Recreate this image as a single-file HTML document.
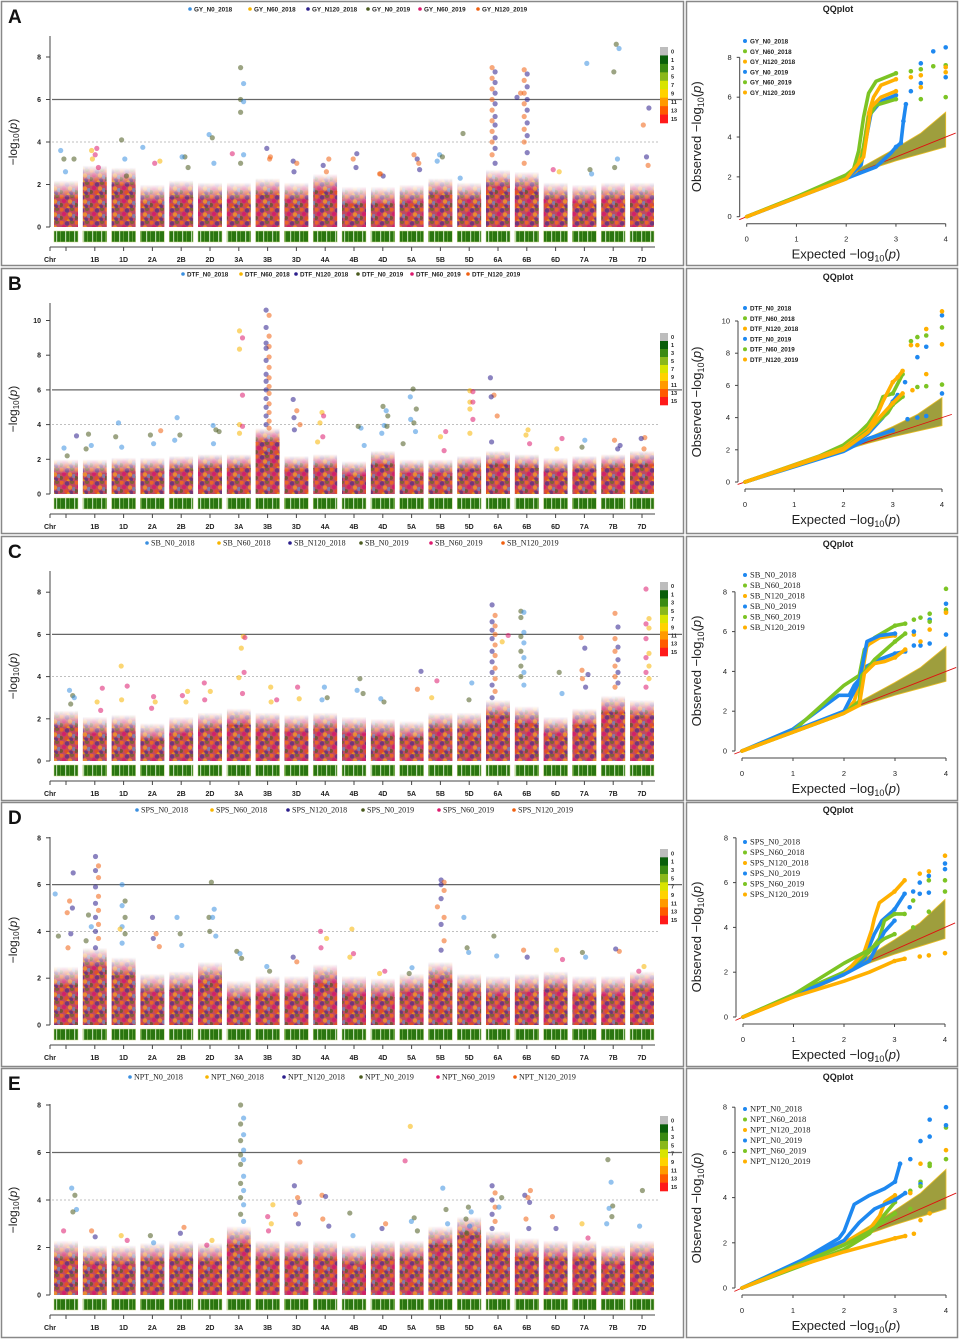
<!DOCTYPE html>
<html><head><meta charset="utf-8"><style>
html,body{margin:0;padding:0;background:#fff;}
svg{display:block;}
</style></head><body>
<svg id="fig" xmlns="http://www.w3.org/2000/svg" width="960" height="1339" viewBox="0 0 960 1339">
<defs>
<pattern id="dots" patternUnits="userSpaceOnUse" width="15" height="13">
<rect width="15" height="13" fill="#c04a62"/>
<circle cx="1.5" cy="1.5" r="2.2" fill="#f06a20" opacity="0.85"/>
<circle cx="7" cy="2.5" r="2.2" fill="#3a2a8c" opacity="0.6"/>
<circle cx="12" cy="1" r="2.2" fill="#6a6a2a" opacity="0.7"/>
<circle cx="4" cy="6" r="2.2" fill="#d6186a" opacity="0.8"/>
<circle cx="10" cy="6.5" r="2.2" fill="#f7a020" opacity="0.75"/>
<circle cx="14" cy="8" r="2" fill="#5a9ad6" opacity="0.6"/>
<circle cx="1" cy="10" r="2" fill="#5a5a28" opacity="0.7"/>
<circle cx="6.5" cy="10.5" r="2.2" fill="#e8501a" opacity="0.8"/>
<circle cx="11" cy="11.5" r="2" fill="#2b2a8c" opacity="0.55"/>
<circle cx="8.5" cy="13" r="1.8" fill="#f5b800" opacity="0.6"/>
</pattern>
<pattern id="chrstripe" patternUnits="userSpaceOnUse" width="9" height="12">
<rect width="9" height="12" fill="#2a7510"/>
<rect x="2" width="1.2" height="12" fill="#b9d8a8"/>
<rect x="6" width="0.8" height="12" fill="#6aa845"/>
</pattern>
<linearGradient id="fadeGrad" x1="0" y1="1" x2="0" y2="0">
<stop offset="0" stop-color="#fff" stop-opacity="1"/>
<stop offset="1" stop-color="#fff" stop-opacity="0"/>
</linearGradient>
<mask id="fadeMask" maskContentUnits="objectBoundingBox">
<rect width="1" height="1" fill="url(#fadeGrad)"/>
</mask>
</defs>
</svg>
<script>
// ---------- data ----------
const chromosomes = ['1A','1B','1D','2A','2B','2D','3A','3B','3D','4A','4B','4D','5A','5B','5D','6A','6B','6D','7A','7B','7D'];
const envs = ['N0_2018','N60_2018','N120_2018','N0_2019','N60_2019','N120_2019'];
const traits = ['GY','DTF','SB','SPS','NPT'];

// dense-column heights per chromosome (-log10 p)
const bulkA = [1.9,2.6,2.5,1.7,1.9,1.8,1.8,2.0,1.8,2.2,1.6,1.6,1.7,2.0,1.8,2.4,2.3,1.8,1.7,1.8,1.8];
const bulkB = [1.7,1.7,1.8,1.8,1.9,2.0,2.0,3.5,1.9,2.0,1.6,2.2,1.7,1.7,1.9,2.2,2.0,1.8,1.9,2.0,2.2];
const bulkC = [2.1,1.8,1.9,1.5,1.8,2.0,2.2,2.0,1.9,2.0,1.8,1.7,1.6,2.0,2.0,2.6,2.3,1.8,2.2,2.8,2.6];
const bulkD = [2.2,3.0,2.6,1.9,2.0,2.4,1.6,1.8,1.8,2.3,1.8,1.7,1.9,2.4,1.9,1.8,1.9,2.0,1.8,1.8,2.0];
const bulkE = [2.0,1.8,1.8,1.9,2.0,1.9,2.6,2.0,2.0,2.0,1.8,2.0,2.0,2.6,3.0,2.4,2.1,2.0,2.0,1.8,2.0];

// notable SNPs: [chromosome index, position within chromosome (-1..1), values]
const snpsA = [[0,-0.3,[3.6,3.2,2.6]],[0,0.8,[3.2]],[1,0,[3.7,3.6,3.4,3.2,2.8]],[2,0,[4.1,3.2,2.4]],[3,-0.8,[3.75]],[3,0.5,[3.1,3.0]],
[4,0.3,[3.3,3.3,2.8]],[5,0.1,[4.35,4.2,3.0]],[6,0.3,[7.5,6.75,6.0,5.9,5.4,3.4,3.0]],[6,-0.7,[3.45]],[7,0,[3.3,3.7,3.2]],[8,0,[3.1,3.0,2.6]],
[9,0,[3.2,2.9,2.6]],[10,0,[3.45,3.2,2.8]],[11,0,[2.5,2.4,2.5]],[12,0.4,[2.7,3.4,3.2,3.0]],[13,0,[3.4,3.3,3.1]],[14,-0.6,[4.4,2.3]],
[15,-0.4,[7.5,7.3,7.0,6.8,6.5,6.3,6.0,5.8,5.5,5.2,5.0,4.8,4.5,4.2,4.0,3.7,3.4,3.0]],
[16,-0.1,[7.4,7.2,6.9,6.6,6.3,6.0,5.8,5.5,5.2,4.9,4.6,4.3,4.0,3.5,3.0]],[16,-0.6,[6.1,6.3]],[17,0,[2.7,2.6]],[18,0.4,[7.7,2.7,2.5]],
[19,0.35,[8.6,8.4,7.3,3.2,2.8]],[20,0.3,[5.6,4.8,3.3,2.9]]];
const snpsB = [[0,0,[2.65,2.2]],[0,0.7,[3.35]],[1,-0.5,[3.45,2.8,2.6]],[2,-0.5,[4.1,3.3,2.7]],[3,0,[3.4,2.9]],[3,0.5,[3.65]],[4,-0.3,[4.4,3.4,3.1]],
[5,0.5,[3.7,3.95,3.6,2.9]],[6,0.2,[9.4,9.0,8.35,5.7,4.0,3.9,3.5]],
[7,0,[10.6,10.3,9.6,9.1,8.7,8.5,8.4,7.9,7.7,7.3,6.9,6.7,6.5,6.2,6.0,5.8,5.5,5.2,5.0,4.7,4.5,4.2,4.0,3.8]],
[8,0,[5.45,4.8,4.4,4.0,3.7]],[9,-0.4,[4.7,4.5,4.1,3.3,3.0]],[10,0.6,[3.8,3.9,2.8]],[11,0.2,[5.05,4.8,4.5,3.95,3.9,3.5]],
[12,0.1,[6.05,5.6,4.9,4.3,4.1,3.6]],[12,-0.7,[2.9]],[13,0.3,[3.6,3.3,2.5]],[14,0.2,[5.95,5.9,5.3,5.3,4.9,4.3,3.5]],
[15,-0.4,[6.7,5.7,5.6,4.5,3.0]],[16,0,[3.7,2.9,3.4]],[17,0.4,[3.2,2.6]],[18,0,[3.1,2.7]],[19,0.3,[2.8,3.1,2.6]],[20,0,[3.25,3.2,2.6]]];
const snpsC = [[0,0.5,[3.35,3.1,3.0,2.7]],[1,0.5,[3.45,2.8,2.4]],[2,0,[4.5,3.55,2.9]],[3,0,[3.05,2.8,2.5]],[4,0.4,[3.3,3.1,2.8]],[5,-0.3,[3.7,3.3,2.9]],
[6,0.3,[5.9,5.85,5.35,4.2,3.95,3.2]],[7,0.5,[3.5,2.9,2.8]],[8,0,[3.5,2.95]],[9,0,[3.5,3.0,2.9]],[10,0.5,[3.9,3.35,3.2]],[11,0,[2.95,2.8]],
[12,0.6,[4.25,3.4]],[13,-0.5,[3.8,3.0]],[14,0.2,[3.7,2.9]],
[15,-0.4,[7.4,6.9,6.6,6.4,6.2,6.0,5.8,5.5,5.2,5.0,4.7,4.4,4.2,3.9,3.6,3.3,3.0]],[15,0.6,[5.65,5.95]],
[16,-0.4,[7.1,7.05,6.8,6.1,5.9,5.6,5.2,4.9,4.5,4.2,4.0,3.6]],[17,0.4,[4.2,3.2]],[18,0,[5.85,5.35,4.3,4.1,3.9,3.5]],
[19,0.3,[7.0,6.35,5.8,5.4,5.2,4.8,4.5,4.2,4.0,3.7,3.5]],[20,0.5,[8.15,6.75,6.5,6.3,5.8,5.1,4.9,4.5,4.2,3.9,3.5]]];
const snpsD = [[0,-0.8,[5.6,3.8]],[0,0.4,[6.5,5.3,5.0,4.8,3.9,3.3]],[1,0.2,[7.2,6.8,6.6,6.3,5.9,5.5,5.2,4.9,4.6,4.3,4.0,3.7,3.3]],[1,-0.5,[4.7,4.2,3.6]],
[2,0,[6.0,5.3,5.1,4.6,4.2,3.9,3.5]],[2,-0.5,[4.1]],[3,0.3,[4.6,3.9,3.7,3.35]],[4,-0.2,[4.6,3.9,3.4]],[5,0.2,[6.1,4.95,4.6,4.6,4.0,3.8]],
[6,0,[3.15,3.05,2.85]],[7,0,[2.5,2.3]],[8,0,[2.9,2.7]],[9,-0.2,[4.0,3.7,3.3]],[10,-0.3,[4.1,3.05,2.9]],[11,0,[2.3,2.2]],[12,0,[2.45,2.2]],
[13,0.2,[6.2,6.1,6.0,5.75,5.4,4.6,4.3,3.6,3.2]],[13,-0.6,[5.05]],[14,-0.3,[4.6,3.3,3.1]],[15,-0.3,[3.8,2.95]],[16,0,[3.2,2.9]],
[17,0.3,[3.2,2.8]],[18,0,[3.1,2.9]],[19,0.3,[3.15,3.25]],[20,0,[2.5,2.3]]];
const snpsE = [[0,0.7,[4.5,4.2,3.6,3.5]],[0,-0.4,[2.7]],[1,0,[2.7,2.45]],[2,0,[2.5,2.3]],[3,0,[2.5,2.2]],[4,0,[2.85,2.6]],[5,0,[2.3,2.1]],
[6,0.3,[8.0,7.45,7.2,6.75,6.5,6.1,5.9,5.7,5.5,5.0,4.7,4.4,4.1,3.8,3.4,3.1]],[7,0.3,[3.8,3.3,3.0,2.7]],[8,0,[5.6,4.6,4.1,3.9,3.4,3.0]],
[9,0,[4.2,4.15,3.2,2.9]],[10,-0.2,[3.45,2.5]],[11,0,[3.0,2.8]],[12,-0.3,[7.1,5.65]],[12,0.2,[3.25,3.1,2.7]],[13,0.4,[4.5,3.6,3.0]],
[14,0,[3.7,3.5,3.2,2.9,2.6]],[15,-0.4,[4.6,4.3,4.0,3.7,3.4,3.1,2.8]],[15,0.3,[4.1,3.7]],[16,0,[4.4,4.2,4.1,3.9,3.2,2.8]],
[17,0,[3.3,2.8]],[18,0,[3.0,2.4]],[19,-0.3,[5.7,4.75,3.75,3.65,3.3,3.0]],[20,0,[4.4,2.9]]];

// QQ series: [expected, observed] per environment (order = envs)
const qqA = [
[[0,0],[2.6,2.5],[2.9,3.2],[3.0,3.5],[3.1,3.7],[3.15,4.8],[3.2,5.65],[3.5,7.7],[3.75,8.3],[4,8.5]],
[[0,0],[1,1],[2,2.1],[2.15,2.4],[2.25,3.3],[2.35,5],[2.45,6.2],[2.6,6.8],[3,7.2],[3.3,7.3],[3.5,7.4],[3.75,7.55],[4,7.6]],
[[0,0],[2,1.95],[2.2,2.3],[2.35,3.5],[2.45,5.2],[2.55,6.0],[2.7,6.6],[3,6.9],[3.3,7.0],[3.5,7.1],[4,7.25]],
[[0,0],[2,1.9],[2.3,2.6],[2.5,5.2],[2.7,5.8],[3,6.1],[3.3,6.3],[3.5,6.7],[4,7.0]],
[[0,0],[2,2.0],[2.3,2.8],[2.45,5.0],[2.6,5.6],[3,5.9],[3.5,5.9],[4,6.0]],
[[0,0],[2,1.9],[2.35,3],[2.5,5.5],[2.7,6.0],[3,6.3],[3.5,6.5],[4,7.5]]];
const qqB = [
[[0,0],[2,2.0],[2.5,3],[2.8,4],[2.9,4.5],[3,5],[3.1,5.4],[3.25,6.2],[3.5,7.75],[3.68,8.4],[4,10.35]],
[[0,0],[1.5,1.6],[2,2.3],[2.3,3],[2.5,3.6],[2.7,4.5],[2.8,5.3],[3,5.5],[3.2,6.7],[3.37,8.75],[3.5,9.0],[3.68,9.1],[4,9.6]],
[[0,0],[2,2.1],[2.5,3.3],[2.7,4.3],[2.8,5],[3,6.2],[3.1,6.5],[3.2,6.9],[3.37,8.5],[3.5,8.5],[3.68,9.5],[4,10.6]],
[[0,0],[2,1.9],[2.5,2.7],[3,3.2],[3.3,3.9],[3.5,4.0],[3.68,4.1],[4,5.5]],
[[0,0],[2,2.0],[2.5,3.2],[2.9,4.3],[3.0,4.8],[3.2,5.3],[3.5,5.9],[3.68,5.95],[4,6.05]],
[[0,0],[2,2.0],[2.5,3.1],[2.7,3.9],[3,4.9],[3.2,5.5],[3.4,5.7],[3.68,6.7],[4,8.55]]];
const qqC = [
[[0,0],[1,1.1],[1.9,2.8],[2.1,2.8],[2.2,3.3],[2.3,3.6],[2.4,4.2],[2.7,4.6],[3,4.9],[3.2,5.0],[3.37,5.3],[3.5,5.3],[3.68,5.4],[4,5.85]],
[[0,0],[1,1.0],[2,3.3],[2.3,3.8],[2.4,5.1],[2.6,5.7],[3,6.3],[3.2,6.4],[3.37,6.6],[3.5,6.7],[3.68,6.9],[4,8.15]],
[[0,0],[2,1.9],[2.2,2.5],[2.35,3.8],[2.45,5.3],[2.7,5.7],[3,5.8],[3.37,5.85],[3.68,6.1],[4,7.0]],
[[0,0],[2,2.0],[2.3,3.5],[2.45,5.5],[2.7,5.8],[3,5.9],[3.37,6.0],[3.68,6.6],[4,7.4]],
[[0,0],[2,1.9],[2.3,2.5],[2.35,3.8],[2.6,4.6],[3,5.5],[3.2,5.9],[3.68,6.5],[4,7.1]],
[[0,0],[2,1.9],[2.3,2.3],[2.4,3.9],[2.6,4.4],[2.8,4.5],[3,4.7],[3.2,5.1],[3.5,5.5],[4,6.95]]];
const qqD = [
[[0,0],[2,1.9],[2.4,2.6],[2.6,3.7],[2.75,4.3],[3,4.8],[3.2,5.5],[3.37,5.6],[3.5,6.0],[3.68,6.3],[4,6.85]],
[[0,0],[2,2.0],[2.5,2.9],[2.7,3.5],[2.8,4.3],[3,4.6],[3.2,4.6],[3.37,5.2],[3.68,6.1],[4,6.1]],
[[0,0],[1,0.9],[2,1.9],[2.4,2.9],[2.55,3.9],[2.6,4.4],[2.7,5.1],[3,5.6],[3.2,6.1],[3.5,6.4],[3.68,6.5],[4,7.2]],
[[0,0],[2,1.9],[2.5,2.5],[2.8,3.8],[3,4.3],[3.3,4.9],[3.5,5.5],[3.68,5.55],[4,6.6]],
[[0,0],[1,1],[2,2.4],[2.5,3.0],[2.8,3.5],[3,3.7],[3.37,4.0],[3.68,4.7],[4,5.6]],
[[0,0],[1,0.9],[2,1.6],[2.5,2.0],[2.8,2.3],[3,2.5],[3.2,2.6],[3.5,2.7],[3.68,2.75],[4,2.85]]];
const qqE = [
[[0,0],[1,1],[1.9,2.2],[2,2.5],[2.2,3.7],[2.5,4.1],[2.8,4.4],[3,4.7],[3.1,5.5],[3.3,5.7],[3.5,6.5],[3.68,7.45],[4,8.0]],
[[0,0],[2,1.7],[2.5,2.4],[2.7,3.0],[3,3.8],[3.3,4.3],[3.5,4.7],[3.68,5.5],[4,7.1]],
[[0,0],[1,1],[2,2.0],[2.5,2.6],[2.7,3.2],[2.8,3.8],[3,4.1],[3.3,4.2],[3.5,5.5],[4,6.1]],
[[0,0],[2,2.1],[2.3,2.9],[2.6,3.5],[3,3.9],[3.2,4.2],[3.5,4.6],[3.68,6.7],[4,7.2]],
[[0,0],[2,1.9],[2.5,2.5],[3,3.3],[3.3,3.5],[3.5,4.5],[3.68,5.4],[4,5.7]],
[[0,0],[1,0.9],[2,1.6],[2.5,1.9],[3,2.2],[3.2,2.3],[3.37,2.4],[3.5,3.0],[3.68,3.3]]];
// confidence band
const bandExp = [1.8,2,2.5,3,3.5,4];
const bandUpper = [1.85,2.06,2.75,3.45,4.2,5.25];
const bandLower = [1.78,1.96,2.4,2.8,3.15,3.5];

// ---------- layout ----------
const NS='http://www.w3.org/2000/svg';
const svg=document.getElementById('fig');
function mk(tag,attrs,parent){const e=document.createElementNS(NS,tag);for(const k in attrs)e.setAttribute(k,attrs[k]);(parent||svg).appendChild(e);return e;}
const envColors=['#3a8fe0','#f7b500','#2b1e8c','#4a5a1e','#dd1a6e','#f06010'];
const qqColors=['#1e88f0','#7cc424','#ffb000','#1e88f0','#7cc424','#ffb000'];
const binColors=['#bdbdbd','#0a5f0a','#3a8a12','#8ab81a','#d8e400','#ffd200','#ff9a00','#ff5a00','#ff1a1a'];
const binLabels=['0','1','3','5','7','9','11','13','15'];

const panels=[
 {id:'A',top:1,bot:265,y0:227,ppu:21.25,ticks:[0,2,4,6,8],axTop:36,bulk:bulkA,snps:snpsA,serif:false,legY:9,legX:[190,250,308,368,420,478],cbTop:47,cbH:76,
  qq:qqA,qx0:746.7,qsx:49.75,qy0:216.7,qsy:19.92,qticks:[0,2,4,6,8],qTitle:12,qLeg:41,qStep:10.3},
 {id:'B',top:268,bot:533,y0:494,ppu:17.35,ticks:[0,2,4,6,8,10],axTop:303,bulk:bulkB,snps:snpsB,serif:false,legY:274,legX:[183,241,296,358,412,468],cbTop:333,cbH:72,
  qq:qqB,qx0:745,qsx:49.25,qy0:482,qsy:16.1,qticks:[0,2,4,6,8,10],qTitle:280,qLeg:308,qStep:10.3},
 {id:'C',top:536,bot:800,y0:761,ppu:21.1,ticks:[0,2,4,6,8],axTop:571,bulk:bulkC,snps:snpsC,serif:true,legY:543,legX:[147,219,290,361,431,503],cbTop:582,cbH:74,
  qq:qqC,qx0:742,qsx:51,qy0:751,qsy:19.9,qticks:[0,2,4,6,8],qTitle:547,qLeg:575,qStep:10.5},
 {id:'D',top:802,bot:1066,y0:1025,ppu:23.4,ticks:[0,2,4,6,8],axTop:837,bulk:bulkD,snps:snpsD,serif:true,legY:810,legX:[137,212,288,363,439,514],cbTop:849,cbH:75,
  qq:qqD,qx0:743,qsx:50.5,qy0:1017,qsy:22.4,qticks:[0,2,4,6,8],qTitle:813,qLeg:842,qStep:10.5},
 {id:'E',top:1068,bot:1337,y0:1295,ppu:23.75,ticks:[0,2,4,6,8],axTop:1104,bulk:bulkE,snps:snpsE,serif:true,legY:1077,legX:[130,207,284,361,438,515],cbTop:1116,cbH:75,
  qq:qqE,qx0:742,qsx:51,qy0:1288,qsy:22.6,qticks:[0,2,4,6,8],qTitle:1080,qLeg:1109,qStep:10.5}
];
const SANS='"Liberation Sans", sans-serif', SERIF='"Liberation Serif", serif';
function chrX(i,p){return 66+i*28.8+(p||0)*11;}
const jitter=[-0.5,0.3,0.7,-0.2,0.5,-0.8,0.1,-0.6,0.9];

panels.forEach((P,pi)=>{
  const trait=traits[pi];
  const g=mk('g',{});
  
  
  const b1=mk('rect',{x:1.5,y:P.top+0.5,width:682,height:P.bot-P.top,fill:'none',stroke:'#888','stroke-width':1.5},g);
  
  
  const b2=mk('rect',{x:686.5,y:P.top+0.5,width:271,height:P.bot-P.top,fill:'none',stroke:'#888','stroke-width':1.5},g);
  
  
  const lt=mk('text',{x:8,y:P.top+22,'font-family':SANS,'font-size':19,'font-weight':'bold',fill:'#111'},g);
  lt.textContent=P.id;
  
  

  const Y=v=>P.y0-v*P.ppu;
  envs.forEach((e,k)=>{
    const c=mk('circle',{cx:P.legX[k],cy:P.legY,r:1.8,fill:envColors[k]},g);
    
    
    const t=mk('text',{x:P.legX[k]+4,y:P.legY+2.3,'font-family':P.serif?SERIF:SANS,'font-size':P.serif?8:6.3,'font-weight':P.serif?'normal':'bold',fill:'#222'},g);
    t.textContent=trait+'_'+e;
    
    
  });
  const th=mk('line',{x1:52,x2:682,y1:Y(6),y2:Y(6),stroke:'#666','stroke-width':1.2},g);
  
  
  const sg=mk('line',{x1:52,x2:660,y1:Y(4),y2:Y(4),stroke:'#aaa','stroke-width':0.8,'stroke-dasharray':'2,2'},g);
  
  
  // bulk columns: solid body + fading fringe
  P.bulk.forEach((v,i)=>{
    const body=Math.max(v-0.5,0.3);
    const r=mk('rect',{x:chrX(i)-12,y:Y(body),width:24,height:body*P.ppu,fill:'url(#dots)'},g);
    
    
    const fr=mk('rect',{x:chrX(i)-12,y:Y(v+0.3),width:24,height:(v+0.3-body)*P.ppu+1,fill:'url(#dots)',mask:'url(#fadeMask)'},g);
    
    
  });
  // snps
  let n=0;
  P.snps.forEach(s=>{
    s[2].forEach((v,j)=>{
      const dx=(s[2].length>6)? (j%2?1.5:-1.5) : jitter[n%jitter.length]*4;
      const c=mk('circle',{cx:chrX(s[0],s[1])+dx,cy:Y(v),r:2.6,fill:envColors[(n*7+j*2)%6],opacity:0.55},g);
      
      
      n++;
    });
  });
  chromosomes.forEach((c,i)=>{
    const r=mk('rect',{x:chrX(i)-12,y:P.y0+4,width:24,height:11,fill:'url(#chrstripe)',stroke:'#c9d88a','stroke-width':0.5},g);
    
    
  });
  const ya=mk('line',{x1:50,x2:50,y1:P.y0,y2:P.axTop,stroke:'#444','stroke-width':1},g);
  
  
  P.ticks.forEach(t=>{
    const tl=mk('line',{x1:46,x2:50,y1:Y(t),y2:Y(t),stroke:'#444','stroke-width':1},g);
    
    
    const tx=mk('text',{x:41,y:Y(t)+2.5,'text-anchor':'end','font-family':SANS,'font-size':7,'font-weight':'bold',fill:'#222'},g);
    tx.textContent=t;
    
    
  });
  const ycy=P.y0-85;
  const yl=mk('text',{x:0,y:0,transform:'translate(17,'+ycy+') rotate(-90)','text-anchor':'middle','font-family':SANS,'font-size':12,fill:'#222'},g);
  yl.innerHTML='\u2212log<tspan font-size="8" dy="2">10</tspan><tspan dy="-2">(</tspan><tspan font-style="italic">p</tspan>)';
  
  
  const xa=mk('line',{x1:50,x2:655,y1:P.y0+20,y2:P.y0+20,stroke:'#444','stroke-width':1},g);
  
  
  const t0=mk('line',{x1:50,x2:50,y1:P.y0+20,y2:P.y0+24,stroke:'#444'},g);
  
  
  const chrT=mk('text',{x:50,y:P.y0+35,'text-anchor':'middle','font-family':SANS,'font-size':7,'font-weight':'bold',fill:'#222'},g);
  chrT.textContent='Chr';
  
  
  chromosomes.forEach((c,i)=>{
    const tk=mk('line',{x1:chrX(i),x2:chrX(i),y1:P.y0+20,y2:P.y0+24,stroke:'#444'},g);
    
    
    if(i>0){
      const tx=mk('text',{x:chrX(i),y:P.y0+35,'text-anchor':'middle','font-family':SANS,'font-size':7,'font-weight':'bold',fill:'#222'},g);
      tx.textContent=c;
      
      
    }
  });
  const bh=P.cbH/binColors.length;
  binColors.forEach((col,k)=>{
    const r=mk('rect',{x:660,y:P.cbTop+k*bh,width:8,height:bh+0.3,fill:col},g);
    
    
    const t=mk('text',{x:671,y:P.cbTop+k*bh+bh*0.75,'font-family':SANS,'font-size':5.5,'font-weight':'bold',fill:'#222'},g);
    t.textContent=binLabels[k];
    
    
  });

  // ---------- QQ plot ----------
  const QX=v=>P.qx0+v*P.qsx, QY=v=>P.qy0-v*P.qsy;
  const title=mk('text',{x:838,y:P.qTitle,'text-anchor':'middle','font-family':SANS,'font-size':9,'font-weight':'bold',fill:'#222'},g);
  title.textContent='QQplot';
  
  
  let pts=bandExp.map((e,k)=>QX(e)+','+QY(bandUpper[k]));
  pts=pts.concat(bandExp.slice().reverse().map((e,k)=>QX(e)+','+QY(bandLower[bandExp.length-1-k])));
  const band=mk('polygon',{points:pts.join(' '),fill:'#8e8e1c',opacity:0.85,stroke:'#e8b400','stroke-width':0.8},g);
  
  
  const dl=mk('line',{x1:QX(-0.15),y1:QY(-0.15),x2:QX(4.2),y2:QY(4.2),stroke:'#e01010','stroke-width':0.9},g);
  
  
  P.qq.forEach((ser,k)=>{
    const line=ser.filter(p=>p[0]<=3.2);
    const pl=mk('polyline',{points:line.map(p=>QX(p[0])+','+QY(p[1])).join(' '),fill:'none',stroke:qqColors[k],'stroke-width':3.6,'stroke-linejoin':'round','stroke-linecap':'round'},g);
    
    
    ser.filter(p=>p[0]>=3).forEach(p=>{
      const c=mk('circle',{cx:QX(p[0]),cy:QY(p[1]),r:2.3,fill:qqColors[k]},g);
      
      
    });
  });
  const qxa=mk('line',{x1:QX(0),x2:QX(4),y1:P.qy0+7,y2:P.qy0+7,stroke:'#444'},g);
  
  
  [0,1,2,3,4].forEach(t=>{
    const tl=mk('line',{x1:QX(t),x2:QX(t),y1:P.qy0+7,y2:P.qy0+10,stroke:'#444'},g);
    
    
    const tx=mk('text',{x:QX(t),y:P.qy0+25,'text-anchor':'middle','font-family':SANS,'font-size':7.5,fill:'#222'},g);
    tx.textContent=t;
    
    
  });
  const qya=mk('line',{x1:QX(0)-7,x2:QX(0)-7,y1:P.qy0,y2:QY(P.qticks[P.qticks.length-1]),stroke:'#444'},g);
  
  
  P.qticks.forEach(t=>{
    const tl=mk('line',{x1:QX(0)-10,x2:QX(0)-7,y1:QY(t),y2:QY(t),stroke:'#444'},g);
    
    
    const tx=mk('text',{x:QX(0)-15,y:QY(t)+2.5,'text-anchor':'end','font-family':SANS,'font-size':7.5,fill:'#222'},g);
    tx.textContent=t;
    
    
  });
  const ex=mk('text',{x:846,y:P.qy0+42,'text-anchor':'middle','font-family':SANS,'font-size':13,fill:'#222'},g);
  ex.innerHTML='Expected  \u2212log<tspan font-size="9" dy="3">10</tspan><tspan dy="-3">(</tspan><tspan font-style="italic">p</tspan>)';
  
  
  const ob=mk('text',{x:0,y:0,transform:'translate(701,'+(P.qy0-80)+') rotate(-90)','text-anchor':'middle','font-family':SANS,'font-size':13,fill:'#222'},g);
  ob.innerHTML='Observed  \u2212log<tspan font-size="9" dy="3">10</tspan><tspan dy="-3">(</tspan><tspan font-style="italic">p</tspan>)';
  
  
  envs.forEach((e,k)=>{
    const yy=P.qLeg+k*P.qStep;
    const c=mk('circle',{cx:745,cy:yy,r:2,fill:qqColors[k]},g);
    
    
    const t=mk('text',{x:750,y:yy+2.5,'font-family':P.serif?SERIF:SANS,'font-size':P.serif?8.5:6.3,'font-weight':P.serif?'normal':'bold',fill:'#222'},g);
    t.textContent=trait+'_'+e;
    
    
  });
});
</script>
</body></html>
